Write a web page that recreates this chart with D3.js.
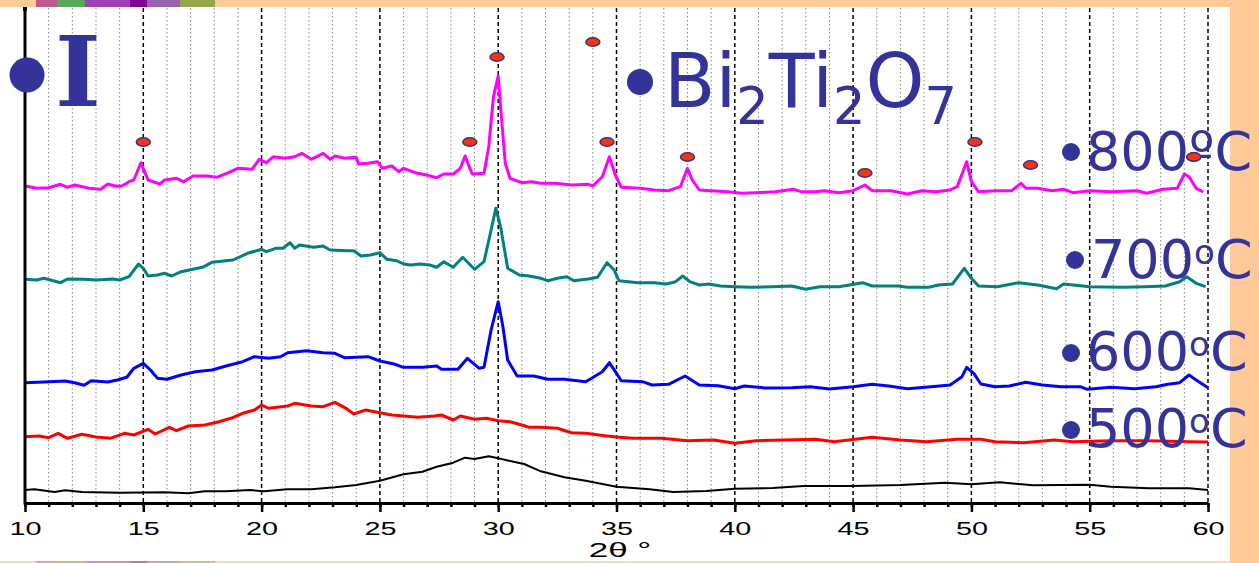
<!DOCTYPE html>
<html>
<head>
<meta charset="utf-8">
<script src="https://cdn.jsdelivr.net/npm/d3@7"></script>
<style>
  html, body { margin: 0; padding: 0; background: #fff; }
  svg { display: block; }
</style>
</head>
<body>
<div id="chart"></div>
<script>
// XRD patterns, 2theta (deg) vs intensity (a.u., offset per curve)
const majorTicks = [10, 15, 20, 25, 30, 35, 40, 45, 50, 55, 60];
const minorTicks = d3.range(10, 61, 1);

const asPrepared = [[10.0,13],[10.4,13.7],[11.25,11],[11.7,12.7],[12.4,11],[14.0,10.3],[15.9,10.7],[16.9,9.7],[17.6,11.7],[18.5,11.7],[19.5,13],[20.1,11.7],[21.1,13.7],[22.1,13.7],[23.1,15.7],[24.0,18],[25.0,22.3],[26.0,28.7],[26.8,31.3],[27.4,36.3],[28.1,40.3],[28.6,45.3],[29.0,44],[29.6,46.7],[30.0,44.7],[30.7,41],[31.1,39],[31.8,31.7],[32.8,25.7],[33.7,22.3],[35.0,16.3],[36.4,13.7],[37.4,11],[38.8,12],[40.0,14.3],[41.6,15],[42.9,17],[45.0,17],[47.0,18],[48.9,20.3],[50.0,18.7],[51.2,20.7],[52.6,17.7],[55.0,18.3],[55.9,16.3],[57.5,14.7],[59.2,14.7],[60.0,13]];

const t500 = [[10.0,66.3],[10.6,67],[11.0,65.3],[11.4,69.7],[11.8,64.7],[12.4,68.7],[13.0,66],[13.6,64.7],[14.2,69.7],[14.6,68],[15.2,73.7],[15.5,69],[16.1,75.7],[16.4,72.3],[16.9,77],[17.6,78],[18.2,81.3],[18.7,84.7],[19.2,89.7],[19.7,93],[20.0,98],[20.3,94.7],[21.1,97],[21.4,99.7],[22.1,97],[22.6,96.3],[23.1,100.7],[23.5,95.7],[23.9,89],[24.4,93],[25.0,90.3],[25.5,88],[26.0,87],[26.6,85.7],[27.3,87],[27.6,88],[28.1,83],[28.4,87],[29.0,83.7],[29.5,84.7],[30.0,82.3],[30.5,81.3],[31.0,78],[31.3,75.7],[31.8,75.7],[32.5,74.7],[33.1,70.3],[33.7,69.7],[34.5,67.3],[35.0,66],[35.7,64.7],[36.9,64.7],[38.0,62.3],[39.1,63],[40.0,59.7],[40.9,62.3],[42.1,63],[43.4,63.7],[44.2,61.3],[45.8,65.7],[47.0,63],[48.1,61.3],[49.4,63.7],[50.4,63.7],[51.0,61.3],[52.2,60.3],[53.5,63],[54.3,61.3],[55.9,62.3],[57.5,62.3],[59.2,61.3],[60.0,61]];

const t600 = [[10.0,120.3],[10.8,121],[11.7,122],[12.1,120.3],[12.5,117.7],[12.8,122.3],[13.5,121],[13.9,123],[14.3,125.7],[14.6,134.7],[15.0,139.7],[15.3,133],[15.6,124.7],[16.0,123.7],[16.6,128],[17.2,131.3],[17.9,133],[18.5,137],[19.2,141.3],[19.7,146.3],[20.3,144.7],[20.8,146.3],[21.1,150.3],[21.9,152.3],[22.6,150.3],[23.1,149.7],[23.5,145.3],[24.5,146.3],[25.0,142],[25.6,139],[26.0,135.7],[26.8,135.7],[27.4,137],[27.6,133.7],[28.3,133.7],[28.7,144.7],[29.2,134.7],[29.4,135.7],[29.7,173],[30.0,201.3],[30.2,176.3],[30.4,143],[30.8,127],[31.5,127],[32.1,123.7],[32.8,123.7],[33.7,121.3],[34.4,131.3],[34.7,140.3],[35.0,129.7],[35.2,122.3],[36.1,121.3],[36.5,118],[37.2,118.7],[37.9,127],[38.5,118],[39.3,117.3],[40.0,114.3],[40.4,117],[41.3,115],[42.4,115.3],[43.2,116.3],[44.0,114],[45.0,116.3],[45.8,118.7],[46.5,117],[47.3,114.3],[48.3,116.3],[49.1,118],[49.6,126.3],[49.8,135.7],[50.1,129.7],[50.4,119],[51.0,116.3],[51.6,117],[52.3,120.7],[53.0,118],[53.8,116.3],[54.6,116.3],[54.9,113.7],[55.9,115.7],[56.9,114.3],[57.8,116.3],[58.3,118.7],[58.8,120.3],[59.2,128],[59.5,123],[60.0,115.3]];

const t700 = [[10.0,223.7],[10.5,223],[10.8,224.7],[11.5,220.3],[11.8,224],[12.5,223.7],[13.0,223],[13.7,224],[14.0,223],[14.4,226.3],[14.8,239],[15.0,234.7],[15.2,227],[15.6,228],[15.9,229.7],[16.2,227],[16.6,231.3],[17.1,233.7],[17.5,235.7],[17.9,240.7],[18.8,243],[19.4,249.7],[20.0,253.7],[20.2,251.3],[20.6,254.7],[20.9,254.7],[21.2,260.3],[21.4,254.7],[21.6,258],[22.2,255.7],[22.6,257],[22.9,253],[23.6,252.3],[23.9,252.3],[24.2,247],[24.6,248],[25.0,250.3],[25.3,243.7],[25.7,242.3],[26.0,239],[26.3,238],[26.7,239],[27.1,238],[27.4,235.7],[27.7,241.3],[28.1,235.7],[28.5,245.7],[29.0,233.7],[29.4,241.3],[29.7,273],[29.9,294.7],[30.1,276.3],[30.4,234.7],[30.9,228],[31.3,227],[31.8,224.7],[32.1,222.3],[32.5,224.7],[32.9,226.3],[33.2,222.3],[33.8,224],[34.2,225.7],[34.6,240.3],[34.9,233],[35.1,222.3],[35.9,220.3],[36.6,220.3],[37.1,219],[37.5,221.3],[37.8,227],[38.1,221.3],[38.5,218],[38.9,219],[39.4,217],[40.0,216.3],[40.7,215.7],[41.6,216.3],[42.4,217],[43.0,213.7],[43.6,216.3],[44.4,216.3],[45.4,220.3],[45.8,217],[46.9,217],[47.3,215.7],[48.2,215.7],[48.6,218],[49.2,219],[49.7,234.7],[50.0,224.7],[50.3,217],[51.1,216.3],[52.0,220.3],[52.8,218],[53.6,214.3],[53.9,219],[55.0,216.3],[56.4,215.7],[57.3,216.3],[58.2,217],[58.8,221.3],[59.1,226.3],[59.5,219.7],[59.9,216.3]];

const t800 = [[10.0,317],[10.5,314.7],[11.0,315.3],[11.5,318.7],[11.8,315.7],[12.1,318],[12.7,314.7],[13.2,313.7],[13.5,319],[13.8,317],[14.1,317],[14.4,321.3],[14.6,323],[14.9,340.3],[15.0,334.7],[15.2,323],[15.7,319],[15.9,323],[16.4,324.7],[16.7,321.3],[17.1,327],[17.7,327],[18.1,325.7],[18.6,330.3],[19.0,334.7],[19.6,333.7],[19.9,343.7],[20.2,340.3],[20.5,346.3],[21.0,344.7],[21.4,346.3],[21.7,349.7],[22.1,343.7],[22.6,349.7],[22.9,343.7],[23.1,347],[23.5,344.7],[24.0,345.7],[24.1,339],[24.5,339.7],[24.9,341.3],[25.1,334.7],[25.5,337],[25.8,331.3],[26.0,334.7],[26.5,330.3],[26.97,328],[27.4,325.3],[27.7,329],[28.1,329],[28.4,334.7],[28.6,347],[28.9,329],[29.4,329.7],[29.6,356.3],[29.8,406.3],[30.0,427],[30.1,396.3],[30.3,339.7],[30.5,324.7],[31.0,320.3],[31.4,321.3],[31.8,319.7],[32.4,319.7],[33.1,318],[33.8,318.7],[34.0,317],[34.4,326.3],[34.7,346.3],[34.95,328],[35.2,315.7],[36.0,314.7],[36.6,313],[37.2,312.3],[37.7,316.3],[38.0,334.7],[38.2,323],[38.5,313],[39.0,312.3],[39.7,311.3],[40.3,309.7],[40.9,310.3],[41.7,311.3],[42.5,313.7],[42.8,311.3],[43.4,311.3],[43.8,312.3],[44.4,310.3],[45.0,312.3],[45.5,318],[45.8,312.3],[46.6,312.3],[47.3,309],[47.9,312.3],[48.5,311.3],[49.1,313],[49.4,316.3],[49.8,341.3],[50.0,321.3],[50.3,311.3],[51.0,312.3],[51.7,312.3],[52.1,319.7],[52.3,314.7],[52.8,314.7],[53.4,312.3],[53.9,313.7],[54.3,310.3],[55.0,312.3],[55.9,311.3],[57.0,312.3],[57.4,309.7],[58.1,313.7],[58.7,314.7],[59.0,329],[59.2,326.3],[59.5,314.7],[59.8,311]];

// Bi2Ti2O7 reflection markers
const markers = [[15.0,361],[28.8,361],[29.95,446],[34.0,461],[34.6,361],[38.0,346],[45.5,330],[50.15,361],[52.5,338],[59.4,346]];

const seriesColors = ['#000000', '#ff0000', '#0000ff', '#008080', '#ff00ff'];
const seriesData = [asPrepared, t500, t600, t700, t800];
const seriesWidths = [2, 3, 3, 3, 3];

const W = 1259, H = 563;
const ink = '#333399', peach = '#ffc999';

const svg = d3.select('#chart').append('svg')
    .attr('width', W)
    .attr('height', H);

// slide background bits
svg.append('rect').attr('x', 0).attr('y', 0).attr('width', W).attr('height', H).attr('fill', '#fff');
svg.append('rect').attr('x', 0).attr('y', 0).attr('width', W).attr('height', 7).attr('fill', peach);
svg.append('rect').attr('x', 0).attr('y', 561).attr('width', W).attr('height', 2).attr('fill', '#ffd9b3');
svg.append('rect').attr('x', 1230).attr('y', 0).attr('width', 29).attr('height', H).attr('fill', peach);
let strip = [[36, '#c05a8a'], [57, '#58a858'], [85, '#a040b8'], [130, '#80009a'], [147, '#9a62b0'], [180, '#94a84a'], [215, null]];
for (let i = 0; i < strip.length - 1; i++) {
    svg.append('rect').attr('x', strip[i][0]).attr('y', 0).attr('width', strip[i + 1][0] - strip[i][0]).attr('height', 7).attr('fill', strip[i][1]);
    svg.append('rect').attr('x', strip[i][0]).attr('y', 561).attr('width', strip[i + 1][0] - strip[i][0]).attr('height', 2).attr('fill', strip[i][1]).attr('opacity', 0.45);
}

let x = d3.scaleLinear().domain([10, 60]).range([25, 1208]);
let y = d3.scaleLinear().domain([0, 495]).range([503, 8]);

// grid
svg.append('g').selectAll('line')
    .data(minorTicks.filter(d => d % 5 !== 0))
    .enter().append('line')
    .attr('x1', d => x(d)).attr('x2', d => x(d))
    .attr('y1', y(495)).attr('y2', y(0))
    .attr('stroke', '#888').attr('stroke-width', 1).attr('stroke-dasharray', '1.5,2.5');

svg.append('g').selectAll('line')
    .data(majorTicks.slice(1))
    .enter().append('line')
    .attr('x1', d => x(d)).attr('x2', d => x(d))
    .attr('y1', y(495)).attr('y2', y(0))
    .attr('stroke', '#000').attr('stroke-width', 1.5).attr('stroke-dasharray', '4,3');

// curves
let line = d3.line().x(d => x(d[0])).y(d => y(d[1]));
seriesData.forEach((s, i) => {
    svg.append('path')
        .datum(s)
        .attr('d', line)
        .attr('fill', 'none')
        .attr('stroke', seriesColors[i])
        .attr('stroke-width', seriesWidths[i])
        .attr('stroke-linejoin', 'round');
});

// axes
svg.append('g')
    .attr('transform', 'translate(0,' + y(0) + ')')
    .call(d3.axisBottom(x).tickValues(minorTicks).tickSize(4).tickSizeOuter(0).tickFormat(''))
    .call(g => g.select('.domain').remove())
    .call(g => g.selectAll('line').attr('stroke-width', 2.5));

let xAxis = svg.append('g')
    .attr('transform', 'translate(0,' + y(0) + ')')
    .call(d3.axisBottom(x).tickValues(majorTicks).tickSize(9).tickSizeOuter(0).tickPadding(10));
xAxis.select('.domain').attr('stroke-width', 3);
xAxis.selectAll('line').attr('stroke-width', 2.5);
xAxis.selectAll('text')
    .attr('font-family', 'Liberation Sans, Arial, sans-serif')
    .attr('font-size', 18)
    .attr('fill', '#000')
    .attr('transform', 'scale(1.6,1)');

svg.append('line')
    .attr('x1', x(10)).attr('x2', x(10))
    .attr('y1', y(495)).attr('y2', y(0) + 1.5)
    .attr('stroke', '#000').attr('stroke-width', 3);
svg.append('rect').attr('x', x(10) - 2).attr('y', y(495) - 1).attr('width', 4).attr('height', 4).attr('fill', '#000');

svg.append('text')
    .attr('transform', 'translate(620,557) scale(1.75,1)')
    .attr('text-anchor', 'middle')
    .attr('font-family', 'Liberation Sans, Arial, sans-serif')
    .attr('font-size', 20)
    .attr('fill', '#000')
    .text('2θ °');

// Bi2Ti2O7 markers
svg.append('g').selectAll('ellipse')
    .data(markers)
    .enter().append('ellipse')
    .attr('cx', d => x(d[0]))
    .attr('cy', d => y(d[1]))
    .attr('rx', 7).attr('ry', 4.2)
    .attr('fill', '#ff3300')
    .attr('stroke', ink).attr('stroke-width', 1.5);

// titles
svg.append('circle').attr('cx', 27).attr('cy', 75).attr('r', 17.5).attr('fill', ink);
svg.append('text')
    .attr('x', 55).attr('y', 106)
    .attr('font-family', 'DejaVu Serif, serif')
    .attr('font-weight', 'bold')
    .attr('font-size', 98)
    .attr('fill', ink)
    .text('I');

svg.append('circle').attr('cx', 640).attr('cy', 82).attr('r', 13).attr('fill', ink);
let formula = svg.append('text')
    .attr('x', 664).attr('y', 107)
    .attr('font-family', 'DejaVu Sans, sans-serif')
    .attr('font-size', 75)
    .attr('fill', ink);
formula.append('tspan').text('Bi');
formula.append('tspan').attr('font-size', 51).attr('dy', 17).text('2');
formula.append('tspan').attr('dy', -17).text('Ti');
formula.append('tspan').attr('font-size', 51).attr('dy', 17).text('2');
formula.append('tspan').attr('dy', -17).text('O');
formula.append('tspan').attr('font-size', 51).attr('dy', 17).text('7');

// temperature labels
let tempLabels = [
    { t: '800', dotX: 1071, dotY: 152, tx: 1086, ty: 170, ordinal: true },
    { t: '700', dotX: 1075, dotY: 260, tx: 1091, ty: 278, ordinal: false },
    { t: '600', dotX: 1071, dotY: 353, tx: 1086, ty: 370, ordinal: false },
    { t: '500', dotX: 1071, dotY: 430, tx: 1086, ty: 447, ordinal: false }
];
tempLabels.forEach(l => {
    svg.append('circle').attr('cx', l.dotX).attr('cy', l.dotY).attr('r', 9).attr('fill', ink);
    let tx = svg.append('text')
        .attr('x', l.tx).attr('y', l.ty)
        .attr('font-family', 'DejaVu Sans, sans-serif')
        .attr('font-size', 54)
        .attr('fill', ink);
    tx.append('tspan').text(l.t);
    if (l.ordinal) {
        tx.append('tspan').text('ºC');
    } else {
        tx.append('tspan').attr('font-size', 34).attr('dy', -14).text('o');
        tx.append('tspan').attr('dy', 14).text('C');
    }
});

// 800 label overlaps the last marker in the original
svg.append('ellipse')
    .attr('cx', x(markers[9][0])).attr('cy', y(markers[9][1]))
    .attr('rx', 7).attr('ry', 4.2)
    .attr('fill', '#ff3300')
    .attr('stroke', ink).attr('stroke-width', 1.5);
</script>
</body>
</html>
